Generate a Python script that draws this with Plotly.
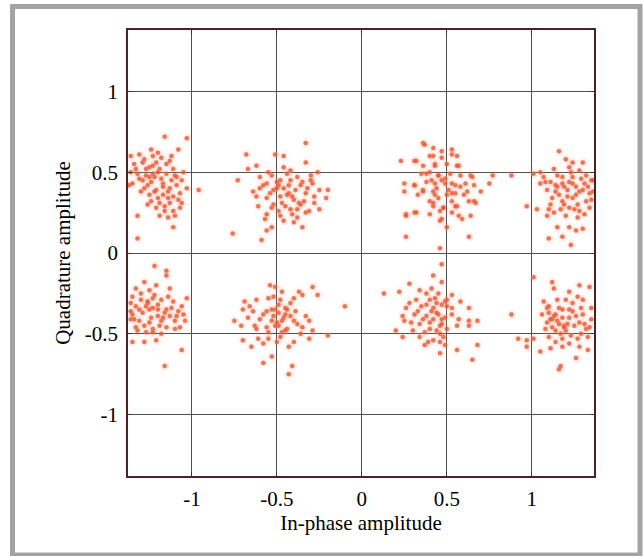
import plotly.graph_objects as go

# ---- data (in-phase, quadrature) ----
tl_x = [-1.16, -1.03, -1.31, -1.24, -1.08, -1.23, -1.18, -1.34, -1.29, -1.21, -1.13, -1.25, -1.19, -1.11,
        -1.05, -1.32, -1.27, -1.23, -1.15, -1.09, -1.35, -1.29, -1.24, -1.17, -1.12, -1.06, -1.28, -1.21,
        -1.13, -1.03, -1.25, -1.17, -1.11, -1.07, -1.24, -1.13, -1.06, -1.21, -1.16, -1.11, -1.07, -1.19,
        -1.14, -1.10, -1.32, -1.11, -1.32, -0.96, -1.37, -1.36, -1.22, -1.18, -1.26, -1.14, -1.20, -1.30,
        -1.27, -1.20, -1.15, -1.10, -1.25, -1.17, -1.22, -1.31, -1.09, -1.14, -1.26, -1.19, -1.08, -1.33,
        -1.36, -1.28, -1.20, -1.12, -1.16, -1.23]
tl_y = [0.72, 0.71, 0.61, 0.64, 0.64, 0.60, 0.59, 0.55, 0.56, 0.56, 0.57, 0.53, 0.52, 0.52,
        0.50, 0.49, 0.48, 0.49, 0.49, 0.47, 0.43, 0.45, 0.44, 0.43, 0.45, 0.45, 0.40, 0.39,
        0.40, 0.40, 0.36, 0.36, 0.35, 0.37, 0.32, 0.31, 0.31, 0.28, 0.26, 0.26, 0.28, 0.23,
        0.22, 0.23, 0.23, 0.16, 0.09, 0.39, 0.42, 0.60, 0.47, 0.46, 0.42, 0.38, 0.34, 0.38,
        0.52, 0.50, 0.55, 0.48, 0.47, 0.41, 0.38, 0.46, 0.42, 0.34, 0.30, 0.31, 0.33, 0.52,
        0.50, 0.58, 0.62, 0.60, 0.29, 0.54]

tm_x = [-0.33, -0.68, -0.51, -0.46, -0.62, -0.67, -0.46, -0.33, -0.73, -0.60, -0.53, -0.44, -0.38, -0.30,
        -0.26, -0.56, -0.50, -0.42, -0.35, -0.29, -0.60, -0.52, -0.46, -0.39, -0.32, -0.25, -0.20, -0.62,
        -0.56, -0.48, -0.41, -0.34, -0.28, -0.21, -0.61, -0.53, -0.45, -0.38, -0.31, -0.25, -0.56, -0.48,
        -0.41, -0.33, -0.57, -0.46, -0.40, -0.53, -0.35, -0.56, -0.76, -0.59, -0.49, -0.43, -0.37,
        -0.48, -0.43, -0.50, -0.36, -0.44, -0.54, -0.40, -0.47, -0.33, -0.58, -0.52, -0.36, -0.42, -0.49,
        -0.28, -0.64, -0.55, -0.42, -0.30, -0.38]
tm_y = [0.68, 0.61, 0.61, 0.60, 0.54, 0.52, 0.53, 0.56, 0.45, 0.47, 0.48, 0.49, 0.47, 0.48,
        0.50, 0.43, 0.44, 0.45, 0.44, 0.43, 0.40, 0.39, 0.40, 0.39, 0.40, 0.39, 0.39, 0.35,
        0.34, 0.35, 0.35, 0.32, 0.35, 0.34, 0.29, 0.28, 0.29, 0.27, 0.26, 0.27, 0.24, 0.23,
        0.24, 0.25, 0.21, 0.20, 0.19, 0.16, 0.16, 0.14, 0.12, 0.08, 0.42, 0.37, 0.31,
        0.45, 0.42, 0.40, 0.42, 0.36, 0.37, 0.33, 0.31, 0.37, 0.42, 0.30, 0.30, 0.27, 0.26,
        0.31, 0.38, 0.50, 0.51, 0.45, 0.22]

tr1_x = [0.36, 0.42, 0.53, 0.23, 0.31, 0.40, 0.47, 0.56, 0.36, 0.43, 0.50, 0.57, 0.35, 0.40, 0.45,
         0.52, 0.58, 0.64, 0.25, 0.31, 0.38, 0.43, 0.49, 0.55, 0.61, 0.66, 0.75, 0.25, 0.36, 0.42,
         0.51, 0.55, 0.62, 0.70, 0.33, 0.40, 0.45, 0.53, 0.63, 0.67, 0.42, 0.48, 0.56, 0.26, 0.31,
         0.46, 0.53, 0.59, 0.64, 0.46, 0.50, 0.26, 0.63, 0.46, 0.77, 0.88, 0.47, 0.44, 0.50,
         0.37, 0.32, 0.42, 0.47, 0.53, 0.56, 0.43, 0.38, 0.45, 0.41, 0.49, 0.53, 0.58, 0.65, 0.31,
         0.36, 0.43, 0.53, 0.60, 0.66, 0.42, 0.48, 0.55, 0.32, 0.40, 0.57, 0.47, 0.26]
tr1_y = [0.68, 0.65, 0.64, 0.57, 0.57, 0.60, 0.59, 0.60, 0.54, 0.55, 0.55, 0.54, 0.49, 0.50, 0.48,
         0.49, 0.48, 0.48, 0.43, 0.42, 0.44, 0.43, 0.43, 0.42, 0.43, 0.42, 0.43, 0.38, 0.39, 0.38,
         0.39, 0.37, 0.38, 0.38, 0.36, 0.32, 0.34, 0.32, 0.32, 0.31, 0.29, 0.28, 0.29, 0.24, 0.25,
         0.26, 0.25, 0.21, 0.23, 0.20, 0.16, 0.10, 0.10, 0.03, 0.48, 0.48, 0.45, 0.40, 0.36,
         0.67, 0.57, 0.60, 0.63, 0.61, 0.54, 0.54, 0.49, 0.48, 0.45, 0.46, 0.43, 0.41, 0.47, 0.42,
         0.38, 0.36, 0.37, 0.36, 0.32, 0.31, 0.28, 0.29, 0.25, 0.24, 0.23, 0.21, 0.23]

tr2_x = [1.16, 1.20, 1.24, 1.30, 1.13, 1.22, 1.28, 1.01, 1.07, 1.15, 1.24, 1.32, 1.05, 1.11, 1.18,
         1.24, 1.31, 1.35, 1.09, 1.14, 1.21, 1.28, 1.34, 1.12, 1.18, 1.24, 1.32, 0.97, 1.03, 1.10,
         1.17, 1.22, 1.28, 1.34, 1.09, 1.20, 1.27, 1.15, 1.22, 1.26, 1.30, 1.10, 1.18, 1.23, 1.36,
         1.19, 1.26, 1.15,
         1.18, 1.22, 1.26, 1.14, 1.30, 1.16, 1.21, 1.27, 1.33, 1.11, 1.19, 1.25, 1.08, 1.35, 1.23,
         1.29, 1.13, 1.31, 1.05, 1.36]
tr2_y = [0.63, 0.58, 0.56, 0.56, 0.52, 0.53, 0.51, 0.49, 0.47, 0.48, 0.47, 0.48, 0.43, 0.44, 0.43,
         0.43, 0.43, 0.45, 0.39, 0.38, 0.39, 0.38, 0.37, 0.34, 0.32, 0.34, 0.32, 0.29, 0.27, 0.27,
         0.27, 0.28, 0.26, 0.28, 0.23, 0.23, 0.22, 0.16, 0.16, 0.14, 0.15, 0.09, 0.10, 0.05, 0.45,
         0.41, 0.36, 0.41,
         0.47, 0.44, 0.41, 0.42, 0.39, 0.36, 0.35, 0.30, 0.41, 0.30, 0.30, 0.27, 0.44, 0.33, 0.50,
         0.46, 0.25, 0.24, 0.50, 0.38]

bl_x = [-1.22, -1.15, -1.15, -1.28, -1.21, -1.33, -1.25, -1.13, -1.35, -1.30, -1.23, -1.18, -1.11, -1.03,
        -1.33, -1.27, -1.23, -1.15, -1.08, -1.35, -1.29, -1.20, -1.13, -1.05, -1.31, -1.25, -1.18, -1.10,
        -1.04, -1.33, -1.23, -1.15, -1.07, -1.23, -1.35, -1.28, -1.21, -1.06, -1.16, -1.36, -1.36, -1.26,
        -1.20, -1.17,
        -1.26, -1.20, -1.31, -1.16, -1.24, -1.28, -1.19, -1.12, -1.34, -1.09, -1.22, -1.30, -1.14, -1.27,
        -1.18, -1.36, -1.32, -1.10, -1.25, -1.06]
bl_y = [-0.08, -0.11, -0.14, -0.18, -0.20, -0.22, -0.23, -0.22, -0.27, -0.29, -0.28, -0.29, -0.30, -0.28,
        -0.33, -0.33, -0.34, -0.35, -0.36, -0.38, -0.37, -0.39, -0.39, -0.38, -0.42, -0.43, -0.42, -0.42,
        -0.42, -0.46, -0.47, -0.46, -0.46, -0.49, -0.55, -0.55, -0.54, -0.60, -0.70, -0.36, -0.41, -0.31,
        -0.35, -0.40,
        -0.30, -0.32, -0.35, -0.37, -0.40, -0.45, -0.45, -0.34, -0.41, -0.39, -0.26, -0.25, -0.27, -0.49,
        -0.50, -0.31, -0.48, -0.47, -0.35, -0.33]

bm_x = [-0.54, -0.51, -0.37, -0.29, -0.26, -0.62, -0.69, -0.55, -0.48, -0.42, -0.35, -0.10, -0.70, -0.64,
        -0.56, -0.51, -0.45, -0.39, -0.75, -0.67, -0.60, -0.53, -0.46, -0.40, -0.31, -0.71, -0.63, -0.56,
        -0.49, -0.44, -0.35, -0.29, -0.61, -0.55, -0.48, -0.40, -0.31, -0.20, -0.70, -0.53, -0.58, -0.41,
        -0.43, -0.65, -0.49, -0.52, -0.45, -0.50, -0.47,
        -0.49, -0.44, -0.53, -0.47, -0.42, -0.58, -0.51, -0.45, -0.38, -0.55, -0.62, -0.33, -0.47, -0.52,
        -0.40, -0.66, -0.36, -0.50, -0.43, -0.58]
bm_y = [-0.20, -0.21, -0.24, -0.21, -0.26, -0.29, -0.30, -0.28, -0.29, -0.31, -0.26, -0.33, -0.35, -0.36,
        -0.36, -0.35, -0.34, -0.36, -0.42, -0.40, -0.41, -0.42, -0.40, -0.42, -0.42, -0.45, -0.45, -0.46,
        -0.45, -0.47, -0.46, -0.48, -0.53, -0.53, -0.52, -0.55, -0.53, -0.51, -0.54, -0.64, -0.68, -0.70,
        -0.75, -0.58, -0.37, -0.39, -0.38, -0.43, -0.49,
        -0.32, -0.35, -0.35, -0.42, -0.39, -0.38, -0.45, -0.48, -0.44, -0.49, -0.47, -0.39, -0.24, -0.27,
        -0.28, -0.33, -0.50, -0.55, -0.58, -0.56]

br1_x = [0.47, 0.42, 0.28, 0.47, 0.34, 0.38, 0.13, 0.22, 0.53, 0.32, 0.40, 0.49, 0.58, 0.26, 0.35,
         0.42, 0.50, 0.63, 0.24, 0.31, 0.38, 0.45, 0.53, 0.57, 0.63, 0.68, 0.25, 0.34, 0.40, 0.46,
         0.63, 0.20, 0.30, 0.37, 0.44, 0.50, 0.24, 0.34, 0.42, 0.48, 0.37, 0.56, 0.68, 0.46, 0.65,
         0.49, 0.44, 0.41, 0.47,
         0.43, 0.47, 0.38, 0.44, 0.49, 0.36, 0.42, 0.47, 0.40, 0.46, 0.33, 0.29, 0.53, 0.50, 0.41,
         0.45, 0.28, 0.56, 0.39, 0.46]
br1_y = [-0.07, -0.14, -0.19, -0.18, -0.23, -0.25, -0.25, -0.24, -0.26, -0.29, -0.29, -0.30, -0.30, -0.34, -0.33,
         -0.34, -0.33, -0.34, -0.39, -0.38, -0.39, -0.38, -0.38, -0.41, -0.42, -0.42, -0.42, -0.44, -0.43, -0.45,
         -0.45, -0.48, -0.48, -0.49, -0.48, -0.47, -0.52, -0.52, -0.54, -0.52, -0.57, -0.60, -0.57, -0.62, -0.66,
         -0.57, -0.31, -0.36, -0.41,
         -0.28, -0.32, -0.32, -0.37, -0.40, -0.41, -0.41, -0.44, -0.47, -0.50, -0.36, -0.43, -0.34, -0.29, -0.22,
         -0.25, -0.31, -0.45, -0.55, -0.55]

br2_x = [0.88, 1.01, 1.12, 1.13, 1.22, 1.28, 1.34, 1.07, 1.15, 1.24, 1.30, 1.09, 1.16, 1.22, 1.29,
         1.35, 1.06, 1.13, 1.18, 1.26, 1.35, 1.09, 1.15, 1.21, 1.28, 1.08, 1.14, 1.20, 1.32, 0.92,
         0.97, 1.01, 1.10, 1.18, 1.27, 1.33, 1.05, 1.11, 1.18, 1.28, 1.33, 1.26, 1.17, 1.16, 0.97,
         1.10, 1.19, 1.12,
         1.18, 1.14, 1.22, 1.16, 1.12, 1.19, 1.25, 1.31, 1.24, 1.30, 1.11, 1.17, 1.23, 1.29, 1.34,
         1.20, 1.27, 1.14, 1.22, 1.10]
br2_y = [-0.38, -0.15, -0.18, -0.22, -0.24, -0.20, -0.21, -0.30, -0.29, -0.31, -0.29, -0.34, -0.34, -0.35, -0.34,
         -0.34, -0.38, -0.39, -0.40, -0.39, -0.41, -0.43, -0.42, -0.44, -0.43, -0.47, -0.48, -0.48, -0.47, -0.53,
         -0.54, -0.53, -0.52, -0.53, -0.53, -0.52, -0.61, -0.59, -0.58, -0.58, -0.60, -0.65, -0.70, -0.72, -0.58,
         -0.37, -0.45, -0.41,
         -0.35, -0.38, -0.40, -0.44, -0.46, -0.46, -0.45, -0.44, -0.36, -0.38, -0.41, -0.50, -0.51, -0.50, -0.46,
         -0.29, -0.27, -0.55, -0.56, -0.33]

tick_vals = [-1, -0.5, 0, 0.5, 1]
tick_text = ["-1", "-0.5", "0", "0.5", "1"]

all_x = tl_x + tm_x + tr1_x + tr2_x + bl_x + bm_x + br1_x + br2_x
all_y = tl_y + tm_y + tr1_y + tr2_y + bl_y + bm_y + br1_y + br2_y

fig = go.Figure()
# soft halo around each point
fig.add_trace(go.Scatter(x=all_x, y=all_y, mode="markers", hoverinfo="skip",
                         marker=dict(size=10, color="rgba(242,130,100,0.09)", line=dict(width=0))))
# core points
fig.add_trace(go.Scatter(x=all_x, y=all_y, mode="markers",
                         marker=dict(size=4.5, color="rgba(230,82,46,0.80)",
                                     line=dict(width=0.8, color="rgba(245,145,115,0.5)"))))

font_family = "Liberation Serif, Times New Roman, serif"
axis_common = dict(
    tickvals=tick_vals, ticktext=tick_text,
    showgrid=True, gridcolor="#505050", gridwidth=1,
    zeroline=False,
    showline=True, linecolor="#4e2026", linewidth=1.5, mirror="ticks",
    ticks="inside", ticklen=4, tickcolor="#333333",
    tickfont=dict(family=font_family, size=21, color="black"),
)

# outer grey frame (pixel positions converted to paper fractions of the 466x446 plot area)
frame_x0 = (12.5 - 128) / 466
frame_x1 = (640 - 128) / 466
frame_y0 = (476 - 555) / 446
frame_y1 = (476 - 6.5) / 446

fig.update_layout(
    width=643, height=556,
    margin=dict(l=128, r=49, t=30, b=80),
    paper_bgcolor="white", plot_bgcolor="white",
    showlegend=False,
    font=dict(family=font_family, color="black"),
    xaxis=dict(range=[-1.376, 1.366], title=dict(text="In-phase amplitude",
               font=dict(family=font_family, size=21), standoff=4),
               ticklabelstandoff=3, **axis_common),
    yaxis=dict(range=[-1.38, 1.38], title=dict(text="Quadrature amplitude",
               font=dict(family=font_family, size=21), standoff=8),
               ticklabelstandoff=4, **axis_common),
    shapes=[dict(type="rect", xref="paper", yref="paper", layer="below",
                 x0=frame_x0, x1=frame_x1, y0=frame_y0, y1=frame_y1,
                 line=dict(color="#a3a3a3", width=5), fillcolor="rgba(0,0,0,0)")],
)

fig.write_html("out.html", config={"displayModeBar": False},
               post_script="document.body.style.margin='0';")
